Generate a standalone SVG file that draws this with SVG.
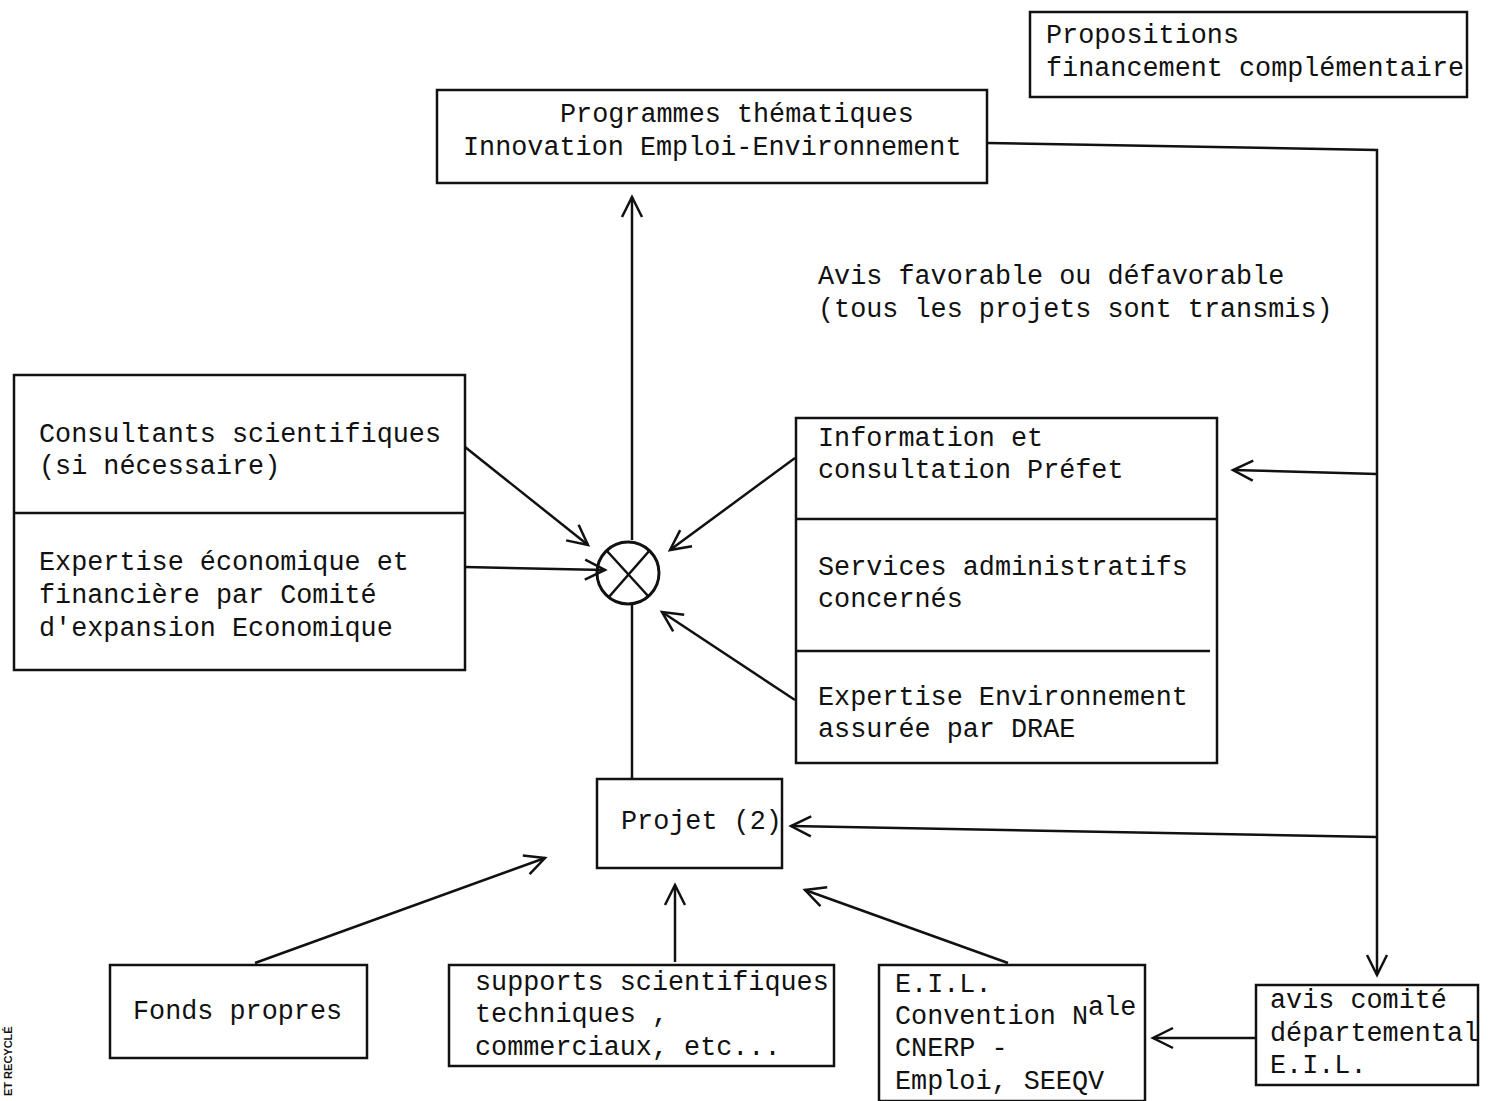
<svg xmlns="http://www.w3.org/2000/svg" width="1489" height="1101" viewBox="0 0 1489 1101">
<style>
.box{fill:none;stroke:#111;stroke-width:2.5}
.ln{fill:none;stroke:#111;stroke-width:2.5}
text{font-family:"Liberation Mono","DejaVu Sans Mono",monospace;font-size:26.8px;fill:#111}
.mk{font-family:"Liberation Sans",Arial,sans-serif;font-size:11px;font-weight:bold}
</style>
<defs>
<marker id="ah" markerWidth="30" markerHeight="30" refX="22" refY="12" orient="auto" markerUnits="userSpaceOnUse" viewBox="0 0 30 24">
<path d="M2,2 L22,12 L2,22" fill="none" stroke="#111" stroke-width="2.5"/>
</marker>
</defs>
<rect width="1489" height="1101" fill="#fff"/>

<g id="propositions">
<rect class="box" x="1030" y="12" width="437" height="85"/>
<text x="1046" y="43">Propositions</text>
<text x="1046" y="76">financement complémentaire</text>
</g>

<g id="programmes">
<rect class="box" x="437" y="90" width="550" height="93"/>
<text x="560" y="122">Programmes thématiques</text>
<text x="463" y="155">Innovation Emploi-Environnement</text>
</g>

<g id="avis-label">
<text x="818" y="284">Avis favorable ou défavorable</text>
<text x="818" y="317">(tous les projets sont transmis)</text>
</g>

<g id="consultants">
<rect class="box" x="14" y="375" width="451" height="295"/>
<line class="ln" x1="14" y1="513" x2="465" y2="513"/>
<text x="39" y="442">Consultants scientifiques</text>
<text x="39" y="474">(si nécessaire)</text>
<text x="39" y="570">Expertise économique et</text>
<text x="39" y="603">financière par Comité</text>
<text x="39" y="636">d'expansion Economique</text>
</g>

<g id="information">
<rect class="box" x="796" y="418" width="421" height="345"/>
<line class="ln" x1="796" y1="519" x2="1217" y2="519"/>
<line class="ln" x1="796" y1="651" x2="1210" y2="651"/>
<text x="818" y="446">Information et</text>
<text x="818" y="478">consultation Préfet</text>
<text x="818" y="575">Services administratifs</text>
<text x="818" y="607">concernés</text>
<text x="818" y="705">Expertise Environnement</text>
<text x="818" y="737">assurée par DRAE</text>
</g>

<g id="junction">
<circle cx="628" cy="573" r="31" fill="none" stroke="#111" stroke-width="3"/>
<line class="ln" x1="607" y1="551" x2="649" y2="597" stroke-width="3"/>
<line class="ln" x1="650" y1="550" x2="608" y2="598" stroke-width="3"/>
</g>

<g id="projet">
<rect class="box" x="597" y="779" width="185" height="89"/>
<text x="621" y="829">Projet (2)</text>
</g>

<g id="fonds">
<rect class="box" x="110" y="965" width="257" height="93"/>
<text x="133" y="1019">Fonds propres</text>
</g>

<g id="supports">
<rect class="box" x="449" y="965" width="385" height="101"/>
<text x="475" y="990">supports scientifiques</text>
<text x="475" y="1022">techniques ,</text>
<text x="475" y="1055">commerciaux, etc...</text>
</g>

<g id="eil">
<rect class="box" x="879" y="965" width="266" height="136"/>
<text x="895" y="992">E.I.L.</text>
<text x="895" y="1024">Convention N<tspan dy="-9">ale</tspan></text>
<text x="895" y="1056">CNERP -</text>
<text x="895" y="1089">Emploi, SEEQV</text>
</g>

<g id="avis-comite">
<rect class="box" x="1256" y="985" width="222" height="100"/>
<text x="1270" y="1008">avis comité</text>
<text x="1270" y="1041">départemental</text>
<text x="1270" y="1073">E.I.L.</text>
</g>

<g id="connectors">
<polyline class="ln" points="987,143 1377,150 1377,975" marker-end="url(#ah)"/>
<line class="ln" x1="1377" y1="474" x2="1233" y2="470" marker-end="url(#ah)"/>
<line class="ln" x1="1377" y1="837" x2="791" y2="826" marker-end="url(#ah)"/>
<line class="ln" x1="632" y1="540" x2="632" y2="197" marker-end="url(#ah)"/>
<line class="ln" x1="632" y1="605" x2="632" y2="779"/>
<line class="ln" x1="465" y1="447" x2="588" y2="545" marker-end="url(#ah)"/>
<line class="ln" x1="465" y1="567" x2="605" y2="570" marker-end="url(#ah)"/>
<line class="ln" x1="795" y1="458" x2="670" y2="550" marker-end="url(#ah)"/>
<line class="ln" x1="795" y1="700" x2="662" y2="612" marker-end="url(#ah)"/>
<line class="ln" x1="255" y1="963" x2="545" y2="858" marker-end="url(#ah)"/>
<line class="ln" x1="675" y1="962" x2="675" y2="885" marker-end="url(#ah)"/>
<line class="ln" x1="1008" y1="963" x2="805" y2="890" marker-end="url(#ah)"/>
<line class="ln" x1="1256" y1="1038" x2="1153" y2="1038" marker-end="url(#ah)"/>
</g>

<text class="mk" transform="translate(12,1096) rotate(-90)">ET  RECYCLÉ</text>
</svg>
